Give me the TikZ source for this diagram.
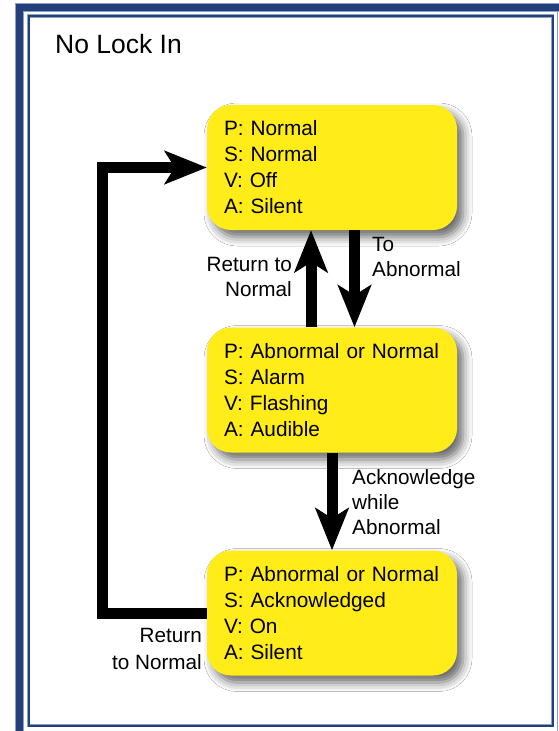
\documentclass[tikz,border=0pt]{standalone}
\usepackage{fontspec}
\setmainfont{Liberation Sans}
\usetikzlibrary{arrows.meta,shadows.blur}
\definecolor{frameblue}{RGB}{35,64,122}
\definecolor{haloblue}{RGB}{140,160,200}
\definecolor{boxyellow}{RGB}{255,236,25}
\begin{document}
\begin{tikzpicture}[x=1pt,y=-1pt,
  statebox/.style={draw=none, fill=boxyellow, rounded corners=24pt,
    minimum width=250pt, minimum height=125pt, text width=216pt,
    align=left, inner xsep=17pt, inner ysep=0pt,
    font=\fontsize{20.8}{26}\selectfont,
    blur shadow={shadow xshift=6pt, shadow yshift=-7pt, shadow blur radius=9pt, shadow opacity=60}},
  lbl/.style={inner sep=0pt, font=\fontsize{20.7}{25}\selectfont},
  bigarrow/.style={line width=11pt, -{Stealth[length=42pt,width=33pt,inset=10pt]}, line join=miter}
]
\useasboundingbox (0,0) rectangle (559,731);
\fill[white] (0,0) rectangle (559,731);
% frame
\draw[haloblue, line width=8.5pt] (19.5,735) -- (19.5,7.5) -- (565,7.5);
\draw[frameblue, line width=6.5pt] (19.5,735) -- (19.5,7.5) -- (565,7.5);
\draw[haloblue, line width=1.2pt] (557.5,11) -- (557.5,731);
\draw[haloblue, line width=3.5pt] (28.5,16) rectangle (552.5,725.5);
\draw[frameblue, line width=2pt] (28.5,16) rectangle (552.5,725.5);

\node[inner sep=0pt, anchor=north west, font=\fontsize{26.5}{30}\selectfont] (title) at (55,34) {No Lock In};

\node[statebox] (top) at (332,167.5) {P: Normal\\S: Normal\\V: Off\\A: Silent};
\node[statebox] (mid) at (332,390) {P: Abnormal or Normal\\S: Alarm\\V: Flashing\\A: Audible};
\node[statebox] (bot) at (332,613) {P: Abnormal or Normal\\S: Acknowledged\\V: On\\A: Silent};

\draw[bigarrow] ([xshift=-21pt]mid.north) -- ([xshift=-21pt]top.south);
\draw[bigarrow] ([xshift=22.5pt]top.south) -- ([xshift=22.5pt]mid.north);
\draw[bigarrow] (mid.south) -- (bot.north);
\draw[bigarrow] (bot.west) -- ++(-104,0) |- (top.west);

\node[lbl, anchor=north east, align=right] (lblret) at (292,257) {Return to\\Normal};
\node[lbl, anchor=north west, align=left] (lblabn) at (372,237) {To\\Abnormal};
\node[lbl, anchor=north west, align=left] (lblack) at (352,469) {Acknowledge\\while\\Abnormal};
\node[lbl, anchor=north east, align=right, font=\fontsize{20.7}{27.5}\selectfont] (lblret2) at (202,628) {Return\\to Normal};
\end{tikzpicture}
\end{document}
